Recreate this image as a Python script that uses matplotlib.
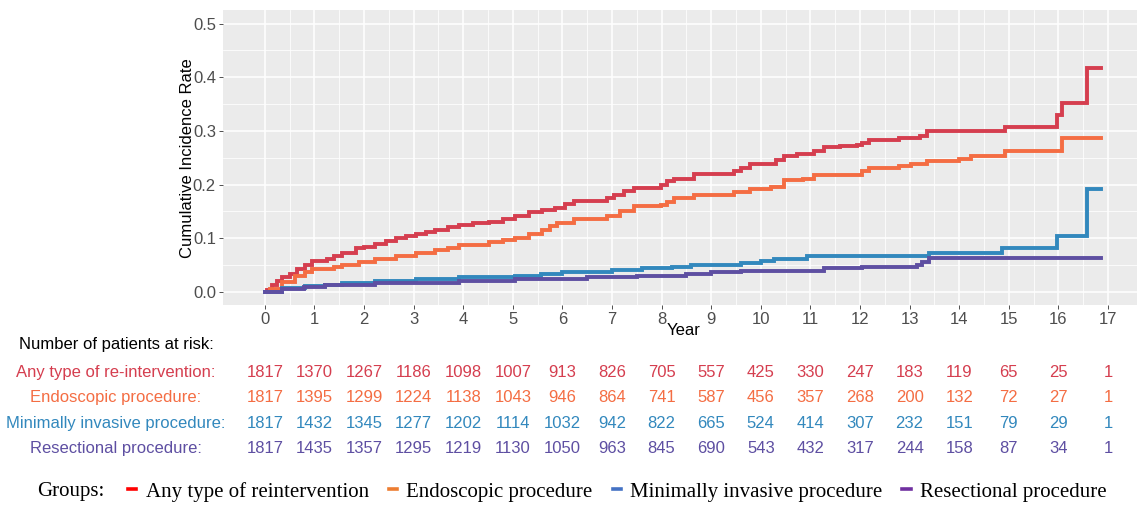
import numpy as np
import matplotlib
matplotlib.use("Agg")
import matplotlib.pyplot as plt
from matplotlib.lines import Line2D
from matplotlib.transforms import blended_transform_factory

plt.rcParams['font.family'] = ['Liberation Sans', 'DejaVu Sans']

# cumulative incidence curves (step points)
t_any = [0, 0.05, 0.15, 0.25, 0.35, 0.5, 0.65, 0.82, 0.95, 1.25, 1.4, 1.56, 1.83, 2.0, 2.23,
         2.45, 2.64, 2.85, 3.04, 3.25, 3.44, 3.7, 3.91, 4.2, 4.52, 4.8, 5.05, 5.32, 5.59, 5.86,
         6.05, 6.23, 6.9, 7.04, 7.25, 7.44, 7.98, 8.1, 8.25, 8.65, 9.46, 9.6, 9.79, 10.3, 10.46,
         10.73, 11.07, 11.27, 11.6, 11.94, 12.05, 12.18, 12.78, 13.2, 13.36, 14.93, 15.98, 16.08,
         16.58, 16.86]
v_any = [0, 0.004, 0.012, 0.02, 0.028, 0.034, 0.042, 0.05, 0.058, 0.062, 0.067, 0.073, 0.081,
         0.084, 0.09, 0.095, 0.1, 0.104, 0.108, 0.112, 0.116, 0.121, 0.125, 0.128, 0.131, 0.136,
         0.141, 0.148, 0.153, 0.157, 0.163, 0.169, 0.175, 0.181, 0.188, 0.194, 0.2, 0.206, 0.211,
         0.219, 0.225, 0.23, 0.239, 0.245, 0.253, 0.257, 0.263, 0.269, 0.271, 0.274, 0.278, 0.283,
         0.287, 0.29, 0.2995, 0.307, 0.33, 0.352, 0.417, 0.417]

t_endo = [0, 0.1, 0.35, 0.6, 0.82, 0.95, 1.4, 1.56, 1.9, 2.23, 2.64, 3.04, 3.44, 3.7, 3.91, 4.52,
          4.8, 5.05, 5.32, 5.59, 5.75, 5.9, 6.23, 6.9, 7.17, 7.44, 7.98, 8.1, 8.25, 8.65, 9.46,
          9.79, 10.2, 10.46, 10.86, 11.07, 12.04, 12.18, 12.78, 13.02, 13.36, 14.0, 14.24, 14.93,
          16.08, 16.86]
v_endo = [0, 0.005, 0.019, 0.03, 0.0375, 0.042, 0.046, 0.05, 0.056, 0.061, 0.067, 0.072, 0.077,
          0.082, 0.088, 0.092, 0.096, 0.1, 0.108, 0.116, 0.122, 0.128, 0.136, 0.141, 0.15, 0.159,
          0.161, 0.168, 0.175, 0.18, 0.186, 0.192, 0.196, 0.208, 0.211, 0.217, 0.225, 0.2315,
          0.2345, 0.238, 0.243, 0.248, 0.253, 0.263, 0.286, 0.286]

t_mini = [0, 0.35, 0.82, 1.22, 1.56, 2.23, 3.04, 3.91, 4.52, 5.05, 5.56, 6.0, 7.0, 7.6, 8.2, 8.6,
          9.6, 10.0, 10.26, 10.93, 13.39, 14.87, 15.98, 16.58, 16.86]
v_mini = [0, 0.0064, 0.0107, 0.0126, 0.017, 0.0206, 0.023, 0.027, 0.028, 0.03, 0.033, 0.0375,
          0.04, 0.044, 0.047, 0.05, 0.0545, 0.057, 0.061, 0.067, 0.072, 0.081, 0.1045, 0.192, 0.192]

t_resec = [0, 0.35, 0.8, 1.22, 2.23, 3.04, 3.91, 5.05, 5.86, 6.5, 7.5, 8.5, 9.0, 9.6, 11.27,
           12.04, 13.15, 13.25, 13.39, 16.86]
v_resec = [0, 0.0045, 0.009, 0.0126, 0.0157, 0.017, 0.02, 0.023, 0.0245, 0.027, 0.03, 0.033,
           0.036, 0.039, 0.044, 0.047, 0.05, 0.055, 0.0626, 0.0626]

years = list(range(18))
risk_any = [1817, 1370, 1267, 1186, 1098, 1007, 913, 826, 705, 557, 425, 330, 247, 183, 119, 65, 25, 1]
risk_endo = [1817, 1395, 1299, 1224, 1138, 1043, 946, 864, 741, 587, 456, 357, 268, 200, 132, 72, 27, 1]
risk_mini = [1817, 1432, 1345, 1277, 1202, 1114, 1032, 942, 822, 665, 524, 414, 307, 232, 151, 79, 29, 1]
risk_resec = [1817, 1435, 1357, 1295, 1219, 1130, 1050, 963, 845, 690, 543, 432, 317, 244, 158, 87, 34, 1]

row_names = ["Any type of re-intervention:", "Endoscopic procedure:",
             "Minimally invasive procedure:", "Resectional procedure:"]
legend_names = ["Any type of reintervention", "Endoscopic procedure",
                "Minimally invasive procedure", "Resectional procedure"]
cols = ['#D53E4F', '#F46D43', '#3288BD', '#5E4FA2']
legend_cols = ['#FF0000', '#ED7D31', '#4472C4', '#7030A0']

fig = plt.figure(figsize=(11.37, 5.07), dpi=100)
ax = fig.add_axes([0.196, 0.398, 0.811, 0.582])
ax.set_facecolor('#EBEBEB')
for s in ax.spines.values():
    s.set_visible(False)

curves = [(t_any, v_any), (t_endo, v_endo), (t_mini, v_mini), (t_resec, v_resec)]
for (t, v), c in zip(curves, cols):
    ax.plot(t, v, drawstyle='steps-post', color=c, lw=2.8, solid_joinstyle='miter', zorder=3)

ax.set_xlim(-0.845, 17.745)
ax.set_ylim(-0.025, 0.525)
ax.set_xticks(years)
ax.set_yticks([0, 0.1, 0.2, 0.3, 0.4, 0.5])
ax.set_yticklabels(['0.0', '0.1', '0.2', '0.3', '0.4', '0.5'])
ax.set_xticks(np.arange(0.5, 17.5, 1), minor=True)
ax.set_yticks(np.arange(0.05, 0.55, 0.1), minor=True)
ax.grid(which='major', color='white', lw=1.1)
ax.grid(which='minor', color='white', lw=0.55)
ax.set_axisbelow(True)
ax.tick_params(which='major', length=3, width=0.6, color='#333333', labelsize=12,
               labelcolor='#4D4D4D', pad=2)
ax.tick_params(which='minor', length=0)
ax.set_xlabel('Year', fontsize=12, labelpad=-3)
ax.set_ylabel('Cumulative Incidence Rate', fontsize=12, labelpad=-1.5)

# risk table
fig.text(0.102, 0.32, 'Number of patients at risk:', ha='center', va='center', fontsize=12)
row_y = [0.265, 0.216, 0.164, 0.115]
tr = blended_transform_factory(ax.transData, fig.transFigure)
for name, counts, c, y in zip(row_names, [risk_any, risk_endo, risk_mini, risk_resec], cols, row_y):
    fig.text(0.102, y, name, ha='center', va='center', fontsize=12, color=c)
    for yr, n in zip(years, counts):
        ax.text(yr, y, str(n), transform=tr, ha='center', va='center', fontsize=12,
                color=c, clip_on=False)

# legend
handles = [Line2D([], [], color=c, lw=2.6) for c in legend_cols]
fig.text(0.033, 0.03, 'Groups:', ha='left', va='center', fontsize=15,
         family='Liberation Serif')
fig.legend(handles, legend_names, loc='center', bbox_to_anchor=(0.543, 0.03), ncol=4,
           frameon=False, handlelength=0.4, handletextpad=0.45, columnspacing=0.95,
           prop={'family': 'Liberation Serif', 'size': 15}, borderaxespad=0)

fig.savefig('out.png', dpi=100)
